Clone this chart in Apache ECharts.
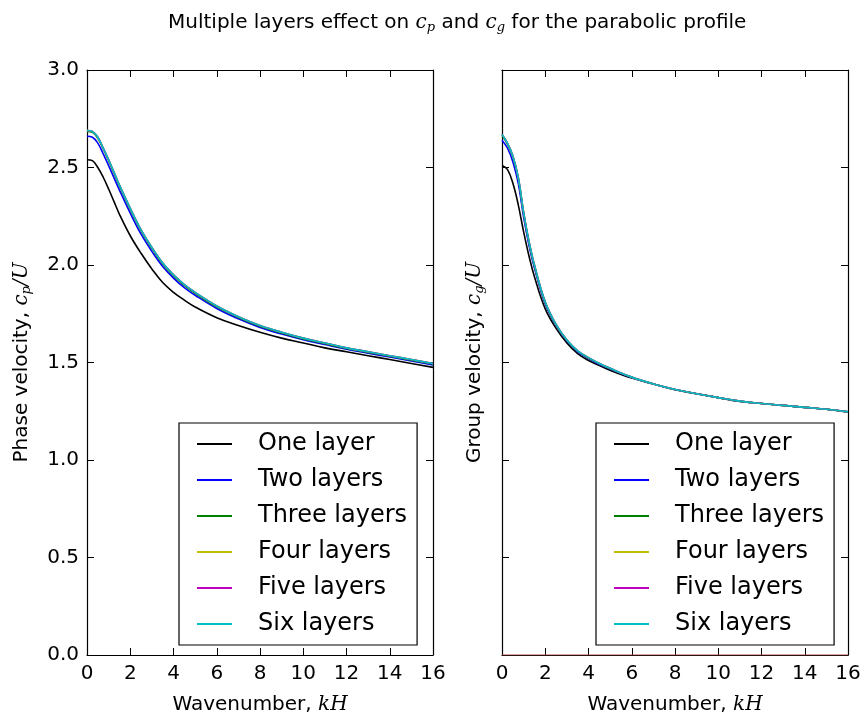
<!DOCTYPE html>
<html>
<head>
<meta charset="utf-8">
<script src="https://cdn.jsdelivr.net/npm/echarts@6/dist/echarts.min.js"></script>
<style>
  html, body { margin: 0; padding: 0; background: #fff; }
  #chart { width: 865px; height: 720px; }
</style>
</head>
<body>
<div id="chart"></div>
<script>
// wavenumber kH (same sampling for both panels)
const kH = [0, 0.25, 0.5, 0.75, 1, 1.25, 1.5, 2, 2.5, 3, 3.5, 4, 4.5, 5, 6, 7, 8, 9, 10, 11, 12, 13, 14, 15, 16];

// phase velocity c_p/U
const cpOne   = [2.54, 2.535, 2.50, 2.45, 2.39, 2.325, 2.26, 2.15, 2.06, 1.98, 1.91, 1.86, 1.82, 1.785, 1.73, 1.69, 1.655, 1.625, 1.60, 1.575, 1.555, 1.535, 1.515, 1.495, 1.475];
const cpTwo   = [2.66, 2.655, 2.625, 2.57, 2.51, 2.447, 2.384, 2.266, 2.158, 2.07, 1.992, 1.933, 1.884, 1.845, 1.777, 1.724, 1.68, 1.646, 1.617, 1.592, 1.568, 1.548, 1.528, 1.508, 1.488];
const cpThree = [2.685, 2.68, 2.65, 2.595, 2.535, 2.47, 2.405, 2.285, 2.175, 2.085, 2.005, 1.945, 1.895, 1.855, 1.785, 1.731, 1.686, 1.651, 1.621, 1.596, 1.572, 1.552, 1.532, 1.512, 1.492];
const cpFour  = [2.69, 2.685, 2.655, 2.60, 2.54, 2.475, 2.41, 2.29, 2.18, 2.09, 2.01, 1.95, 1.90, 1.86, 1.79, 1.735, 1.69, 1.655, 1.625, 1.60, 1.575, 1.555, 1.535, 1.515, 1.495];
const cpFive  = [2.69, 2.685, 2.655, 2.60, 2.54, 2.475, 2.41, 2.29, 2.18, 2.09, 2.01, 1.95, 1.90, 1.86, 1.79, 1.735, 1.69, 1.655, 1.625, 1.60, 1.575, 1.555, 1.535, 1.515, 1.495];
const cpSix   = [2.69, 2.685, 2.655, 2.60, 2.54, 2.475, 2.41, 2.29, 2.18, 2.09, 2.01, 1.95, 1.90, 1.86, 1.79, 1.735, 1.69, 1.655, 1.625, 1.60, 1.575, 1.555, 1.535, 1.515, 1.495];

// group velocity c_g/U
const cgOne   = [2.51, 2.49, 2.42, 2.31, 2.17, 2.045, 1.94, 1.775, 1.675, 1.60, 1.545, 1.51, 1.485, 1.46, 1.42, 1.39, 1.36, 1.34, 1.32, 1.30, 1.29, 1.28, 1.27, 1.26, 1.245];
const cgTwo   = [2.64, 2.60, 2.53, 2.42, 2.245, 2.10, 1.985, 1.80, 1.69, 1.61, 1.555, 1.52, 1.49, 1.467, 1.423, 1.39, 1.362, 1.34, 1.32, 1.302, 1.29, 1.28, 1.27, 1.26, 1.247];
const cgThree = [2.665, 2.62, 2.555, 2.445, 2.265, 2.115, 1.995, 1.807, 1.693, 1.613, 1.558, 1.523, 1.494, 1.469, 1.424, 1.39, 1.362, 1.34, 1.32, 1.302, 1.29, 1.28, 1.27, 1.26, 1.247];
const cgFour  = [2.67, 2.625, 2.56, 2.45, 2.27, 2.12, 2.00, 1.81, 1.695, 1.615, 1.56, 1.525, 1.495, 1.47, 1.425, 1.39, 1.362, 1.34, 1.32, 1.302, 1.29, 1.28, 1.27, 1.26, 1.247];
const cgFive  = [2.67, 2.625, 2.56, 2.45, 2.27, 2.12, 2.00, 1.81, 1.695, 1.615, 1.56, 1.525, 1.495, 1.47, 1.425, 1.39, 1.362, 1.34, 1.32, 1.302, 1.29, 1.28, 1.27, 1.26, 1.247];
const cgSix   = [2.67, 2.625, 2.56, 2.45, 2.27, 2.12, 2.00, 1.81, 1.695, 1.615, 1.56, 1.525, 1.495, 1.47, 1.425, 1.39, 1.362, 1.34, 1.32, 1.302, 1.29, 1.28, 1.27, 1.26, 1.247];

// faint red line lying on zero in the right panel
const zeroK = [0, 16];
const zeroVal = [0, 0];

const layerNames = ['One layer', 'Two layers', 'Three layers', 'Four layers', 'Five layers', 'Six layers'];
const layerColors = ['#000000', '#0000ff', '#008000', '#bfbf00', '#bf00bf', '#00bfbf'];

const FONT = 'DejaVu Sans';
const mathRich = {
  m: { fontFamily: 'DejaVu Serif', fontStyle: 'italic', fontSize: 20, color: '#000' },
  s: { fontFamily: 'DejaVu Serif', fontStyle: 'italic', fontSize: 13, color: '#000', padding: [9, 0, 0, 0] }
};

const pair = (xs, ys) => xs.map((x, i) => [x, ys[i]]);

const chart = echarts.init(document.getElementById('chart'));

const labelStyle = { color: '#000', fontFamily: FONT, fontSize: 20 };

function tick() {
  return { show: true, inside: true, length: 7, lineStyle: { color: '#000', width: 1 } };
}
function axLine() {
  return { show: true, onZero: false, lineStyle: { color: '#000', width: 1.2 } };
}

function xAx(gridIndex, top) {
  return {
    type: 'value', gridIndex: gridIndex, position: top ? 'top' : 'bottom',
    min: 0, max: 16, interval: 2,
    axisLine: axLine(), axisTick: tick(), splitLine: { show: false },
    axisLabel: top ? { show: false } : Object.assign({ margin: 9 }, labelStyle),
    name: top ? '' : 'Wavenumber, {m|kH}',
    nameLocation: 'middle', nameGap: 40,
    nameTextStyle: { color: '#000', fontFamily: FONT, fontSize: 20, rich: mathRich }
  };
}

function yAx(gridIndex, right, showLabel, name) {
  return {
    type: 'value', gridIndex: gridIndex, position: right ? 'right' : 'left',
    min: 0, max: 3, interval: 0.5,
    axisLine: axLine(), axisTick: tick(), splitLine: { show: false },
    axisLabel: showLabel ? Object.assign({ margin: 8, formatter: v => v.toFixed(1) }, labelStyle) : { show: false },
    name: name || '',
    nameLocation: 'middle', nameRotate: 90, nameGap: showLabel ? 54 : 16,
    nameTextStyle: { color: '#000', fontFamily: FONT, fontSize: 20, rich: mathRich }
  };
}

const series = [];
const cpAll = [cpOne, cpTwo, cpThree, cpFour, cpFive, cpSix];
const cgAll = [cgOne, cgTwo, cgThree, cgFour, cgFive, cgSix];
layerNames.forEach((nm, i) => {
  series.push({
    name: nm, type: 'line', xAxisIndex: 0, yAxisIndex: 0,
    data: pair(kH, cpAll[i]), showSymbol: false, symbol: 'none',
    smooth: 0.4,
    lineStyle: { color: layerColors[i], width: 1.6 }, itemStyle: { color: layerColors[i] }
  });
  series.push({
    name: nm, type: 'line', xAxisIndex: 2, yAxisIndex: 2,
    data: pair(kH, cgAll[i]), showSymbol: false, symbol: 'none',
    smooth: 0.4,
    lineStyle: { color: layerColors[i], width: 1.6 }, itemStyle: { color: layerColors[i] }
  });
});
series.push({
  name: 'zero', type: 'line', xAxisIndex: 2, yAxisIndex: 2, z: 1,
  data: pair(zeroK, zeroVal), showSymbol: false, symbol: 'none',
  lineStyle: { color: '#b04a4a', width: 1 }
});

function legendAt(left) {
  return {
    data: layerNames, orient: 'vertical', left: left, top: 423,
    icon: 'rect', itemWidth: 35, itemHeight: 2, itemGap: 12,
    padding: [9, 10, 9, 18],
    backgroundColor: '#fff', borderColor: '#000', borderWidth: 1.2, borderRadius: 0,
    selectedMode: false,
    textStyle: { color: '#000', fontFamily: FONT, fontSize: 24, lineHeight: 24, padding: [0, 0, 0, 21] }
  };
}

const option = {
  backgroundColor: '#fff',
  animation: false,
  title: {
    text: 'Multiple layers effect on {m|c}{s|p} and {m|c}{s|g} for the parabolic profile',
    left: 163, top: 7,
    textStyle: {
      color: '#000', fontFamily: FONT, fontSize: 20, fontWeight: 'normal',
      rich: {
        m: { fontFamily: 'DejaVu Serif', fontStyle: 'italic', fontSize: 20, color: '#000' },
        s: { fontFamily: 'DejaVu Serif', fontStyle: 'italic', fontSize: 13, color: '#000', padding: [9, 0, 0, 0] }
      }
    }
  },
  legend: [legendAt(179), legendAt(596)],
  grid: [
    { left: 87, top: 70, width: 346, height: 586 },
    { left: 502, top: 70, width: 346, height: 586 }
  ],
  xAxis: [xAx(0, false), xAx(0, true), xAx(1, false), xAx(1, true)],
  yAxis: [
    yAx(0, false, true, 'Phase velocity, {m|c}{s|p}{m|/U}'),
    yAx(0, true, false),
    yAx(1, false, false, 'Group velocity, {m|c}{s|g}{m|/U}'),
    yAx(1, true, false)
  ],
  series: series
};

chart.setOption(option);
</script>
</body>
</html>
